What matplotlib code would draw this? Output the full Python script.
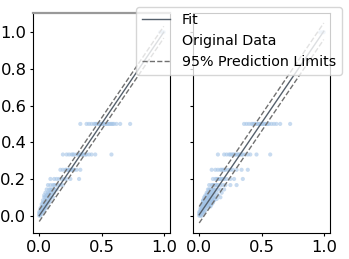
import matplotlib
matplotlib.use("Agg")
import matplotlib.pyplot as plt

# ---- data ----
left_levels = [1.0, 0.5, 0.3333, 0.25, 0.2, 0.1667, 0.1429, 0.125, 0.1111, 0.1,
               0.0833, 0.0714, 0.0625, 0.05, 0.04, 0.03, 0.02, 0.01, 0.0]
left_x = [
    [0.97, 0.99, 1.0],
    [0.33, 0.38, 0.40, 0.42, 0.44, 0.45, 0.46, 0.47, 0.48, 0.49, 0.50, 0.51, 0.52,
     0.53, 0.54, 0.55, 0.56, 0.57, 0.58, 0.59, 0.60, 0.62, 0.65, 0.73],
    [0.19, 0.22, 0.24, 0.26, 0.27, 0.28, 0.30, 0.31, 0.32, 0.33, 0.34, 0.35, 0.36,
     0.37, 0.38, 0.40, 0.42, 0.45, 0.58],
    [0.17, 0.19, 0.21, 0.22, 0.23, 0.24, 0.25, 0.26, 0.27, 0.28, 0.30, 0.33],
    [0.09, 0.12, 0.14, 0.16, 0.18, 0.20, 0.22, 0.25, 0.32],
    [0.07, 0.09, 0.11, 0.12, 0.13, 0.15, 0.17, 0.19],
    [0.06, 0.08, 0.09, 0.10, 0.11, 0.12, 0.14],
    [0.05, 0.07, 0.08, 0.09, 0.10, 0.12],
    [0.04, 0.06, 0.07, 0.08, 0.10],
    [0.04, 0.05, 0.07, 0.08, 0.09, 0.11],
    [0.03, 0.05, 0.06, 0.07, 0.09],
    [0.03, 0.04, 0.06, 0.07, 0.08],
    [0.02, 0.04, 0.05, 0.06],
    [0.02, 0.03, 0.04, 0.05, 0.06],
    [0.01, 0.03, 0.04, 0.05],
    [0.01, 0.02, 0.03, 0.04],
    [0.0, 0.01, 0.02, 0.03],
    [0.0, 0.01, 0.02],
    [0.0, 0.01],
]
left_fit = [0.0, 1.0]
left_halfwidth = 0.032

right_levels = [1.0, 0.5, 0.3333, 0.25, 0.2, 0.1667, 0.1429, 0.125, 0.1111, 0.1,
                0.0909, 0.0833, 0.0769, 0.0714, 0.0625, 0.0556, 0.05, 0.04, 0.03,
                0.02, 0.01, 0.0]
right_x = [
    [0.97, 0.99, 1.0],
    [0.36, 0.38, 0.40, 0.42, 0.43, 0.44, 0.45, 0.46, 0.47, 0.48, 0.49, 0.50, 0.51,
     0.52, 0.53, 0.54, 0.55, 0.56, 0.58, 0.60, 0.62, 0.65, 0.73],
    [0.15, 0.20, 0.22, 0.24, 0.25, 0.26, 0.27, 0.28, 0.29, 0.30, 0.31, 0.32, 0.33,
     0.34, 0.35, 0.37, 0.39, 0.41, 0.46, 0.57],
    [0.10, 0.13, 0.15, 0.17, 0.18, 0.19, 0.20, 0.21, 0.23, 0.25, 0.27, 0.30, 0.34, 0.39],
    [0.11, 0.13, 0.14, 0.15, 0.16, 0.17, 0.18, 0.19, 0.20, 0.22, 0.25, 0.28, 0.35],
    [0.08, 0.10, 0.11, 0.12, 0.13, 0.14, 0.15, 0.17, 0.19, 0.21, 0.25, 0.30],
    [0.07, 0.08, 0.09, 0.10, 0.11, 0.12, 0.13, 0.15, 0.17, 0.20],
    [0.06, 0.07, 0.08, 0.09, 0.10, 0.11, 0.12, 0.14, 0.18],
    [0.05, 0.06, 0.07, 0.08, 0.09, 0.10, 0.12, 0.15],
    [0.04, 0.05, 0.06, 0.07, 0.08, 0.09, 0.11, 0.13, 0.17],
    [0.04, 0.05, 0.06, 0.07, 0.08, 0.10, 0.12, 0.14],
    [0.03, 0.04, 0.05, 0.06, 0.07, 0.08, 0.10, 0.12],
    [0.03, 0.04, 0.05, 0.06, 0.07, 0.09, 0.11],
    [0.03, 0.04, 0.05, 0.06, 0.07, 0.09, 0.11],
    [0.02, 0.03, 0.04, 0.05, 0.06, 0.08, 0.10],
    [0.02, 0.03, 0.04, 0.05, 0.06, 0.07, 0.09],
    [0.02, 0.03, 0.04, 0.05, 0.07, 0.09],
    [0.01, 0.02, 0.03, 0.04, 0.06],
    [0.01, 0.02, 0.03, 0.05],
    [0.0, 0.01, 0.02, 0.03, 0.04],
    [0.0, 0.01, 0.02, 0.03],
    [0.0, 0.01, 0.02],
]
right_fit = [0.005, 1.005]
right_halfwidth = 0.045

line_x = [0.0, 1.0]

plt.rcParams['font.size'] = 10.3
fig = plt.figure(figsize=(3.49, 2.59), dpi=100)
ax1 = fig.add_axes([33/349, 1-233/259, 137/349, 220/259])
ax2 = fig.add_axes([193/349, 1-233/259, 137/349, 220/259], sharey=ax1)

pt_color = '#a4c4e6'
for ax, levels, xs, fit, hw in [(ax1, left_levels, left_x, left_fit, left_halfwidth),
                                (ax2, right_levels, right_x, right_fit, right_halfwidth)]:
    px, py = [], []
    for lv, xl in zip(levels, xs):
        px.extend(xl)
        py.extend([lv] * len(xl))
    ax.scatter(px, py, s=9, color=pt_color, alpha=0.6, edgecolors='none',
               label='Original Data', zorder=1)
    ax.plot(line_x, fit, color='#55606c', lw=1.0, label='Fit', zorder=3)
    lo = [f - hw for f in fit]
    hi = [f + hw for f in fit]
    ax.plot(line_x, hi, color='#707070', lw=1.0, ls='--',
            label='95% Prediction Limits', zorder=2)
    ax.plot(line_x, lo, color='#707070', lw=1.0, ls='--', zorder=2)
    ax.set_xticks([0.0, 0.5, 1.0])
    ax.tick_params(length=2.5, pad=2.2, width=0.8, labelsize=11.8)
    for s in ax.spines.values():
        s.set_linewidth(0.8)

ax1.set_yticks([0.0, 0.2, 0.4, 0.6, 0.8, 1.0])
plt.setp(ax2.get_yticklabels(), visible=False)
ax1.spines['top'].set_color('#999999')
ax1.spines['top'].set_linewidth(1.6)

handles, labels = ax1.get_legend_handles_labels()
order = [labels.index('Fit'), labels.index('Original Data'), labels.index('95% Prediction Limits')]
leg = fig.legend([handles[i] for i in order], [labels[i] for i in order], loc='upper right')
for h in leg.legend_handles:
    if h.get_label() == 'Original Data':
        h.set_alpha(0.0)

fig.savefig('out.png', dpi=100)
